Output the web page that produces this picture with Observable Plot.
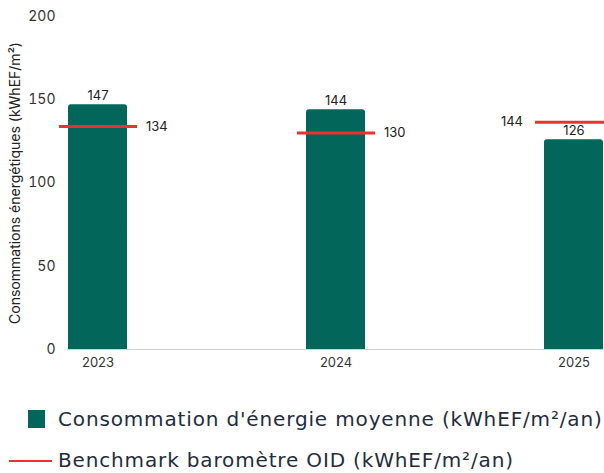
<!DOCTYPE html>
<html>
<head>
<meta charset="utf-8">
<script src="https://cdn.jsdelivr.net/npm/d3@7"></script>
<script src="https://cdn.jsdelivr.net/npm/@observablehq/plot@0.6"></script>
<style>
  body { margin: 0; background: #fff; width: 604px; height: 473px; overflow: hidden; position: relative; }
  #chart { position: absolute; left: 0; top: 0; }
  .leg { position: absolute; left: 0; font-family: "DejaVu Sans", sans-serif; font-size: 20px; letter-spacing: 0.85px; color: #1f2d3d; white-space: nowrap; }
  .sw { position: absolute; }
</style>
</head>
<body>
<div id="chart"></div>
<div class="leg" style="top:407px;"><span class="sw" style="left:28px;top:3px;width:17px;height:18px;background:#02675a;"></span><span style="position:absolute;left:58px;top:0;">Consommation d'énergie moyenne (kWhEF/m²/an)</span></div>
<div class="leg" style="top:448px;"><span class="sw" style="left:9px;top:12px;width:43px;height:2px;background:#e8352c;"></span><span style="position:absolute;left:58px;top:0;">Benchmark baromètre OID (kWhEF/m²/an)</span></div>
<script>
const years = ["2023", "2024", "2025"];
const consumption = [147, 144, 126];
const benchmark = [134, 130, 136.5];
const benchmarkLabels = ["134", "130", "144"];
const yTicks = [0, 50, 100, 150, 200];
const yLabel = "Consommations énergétiques (kWhEF/m²)";

const data = years.map((y, i) => ({year: y, value: consumption[i], bench: benchmark[i], benchLabel: benchmarkLabels[i]}));

const plot = Plot.plot({
  width: 604,
  height: 380,
  marginTop: 16,
  marginBottom: 31,
  marginLeft: 67,
  marginRight: 1,
  style: {fontFamily: "Inter, sans-serif", fontSize: "13px", color: "#333"},
  x: {domain: years, paddingInner: 0.753, paddingOuter: 0, label: null},
  y: {domain: [0, 200], label: null},
  marks: [
    Plot.gridY(yTicks.filter(d => d > 0), {stroke: "#e6e6e6", strokeOpacity: 1, x1: 67, x2: 604}),
    Plot.ruleY([0], {stroke: "#d0d0d0"}),
    Plot.axisY(yTicks, {tickSize: 0, tickPadding: 12, fontSize: 14, fill: "#333"}),
    Plot.axisX({tickSize: 0, tickPadding: 8, fontSize: 13, fill: "#333"}),
    Plot.barY(data, {x: "year", y: "value", fill: "#02675a", rx: 3}),
    Plot.barY(data, {x: "year", y: d => d.value / 2, fill: "#02675a"}),
    Plot.text(data, {x: "year", y: "value", text: d => String(d.value), dy: -9, fill: "#222", fontSize: 13}),
    Plot.tickY(data, {x: "year", y: "bench", stroke: "#e8352c", strokeWidth: 3, insetLeft: -9, insetRight: -10}),
    Plot.text(data.slice(0, 2), {x: "year", y: "bench", text: "benchLabel", dx: 48, textAnchor: "start", fill: "#222", fontSize: 13}),
    Plot.text(data.slice(2), {x: "year", y: "bench", text: "benchLabel", dx: -51, textAnchor: "end", fill: "#222", fontSize: 13}),
    Plot.text([yLabel], {frameAnchor: "left", textAnchor: "middle", rotate: -90, dx: -52, fill: "#222", fontSize: 14})
  ]
});
document.getElementById("chart").appendChild(plot);
</script>
</body>
</html>
